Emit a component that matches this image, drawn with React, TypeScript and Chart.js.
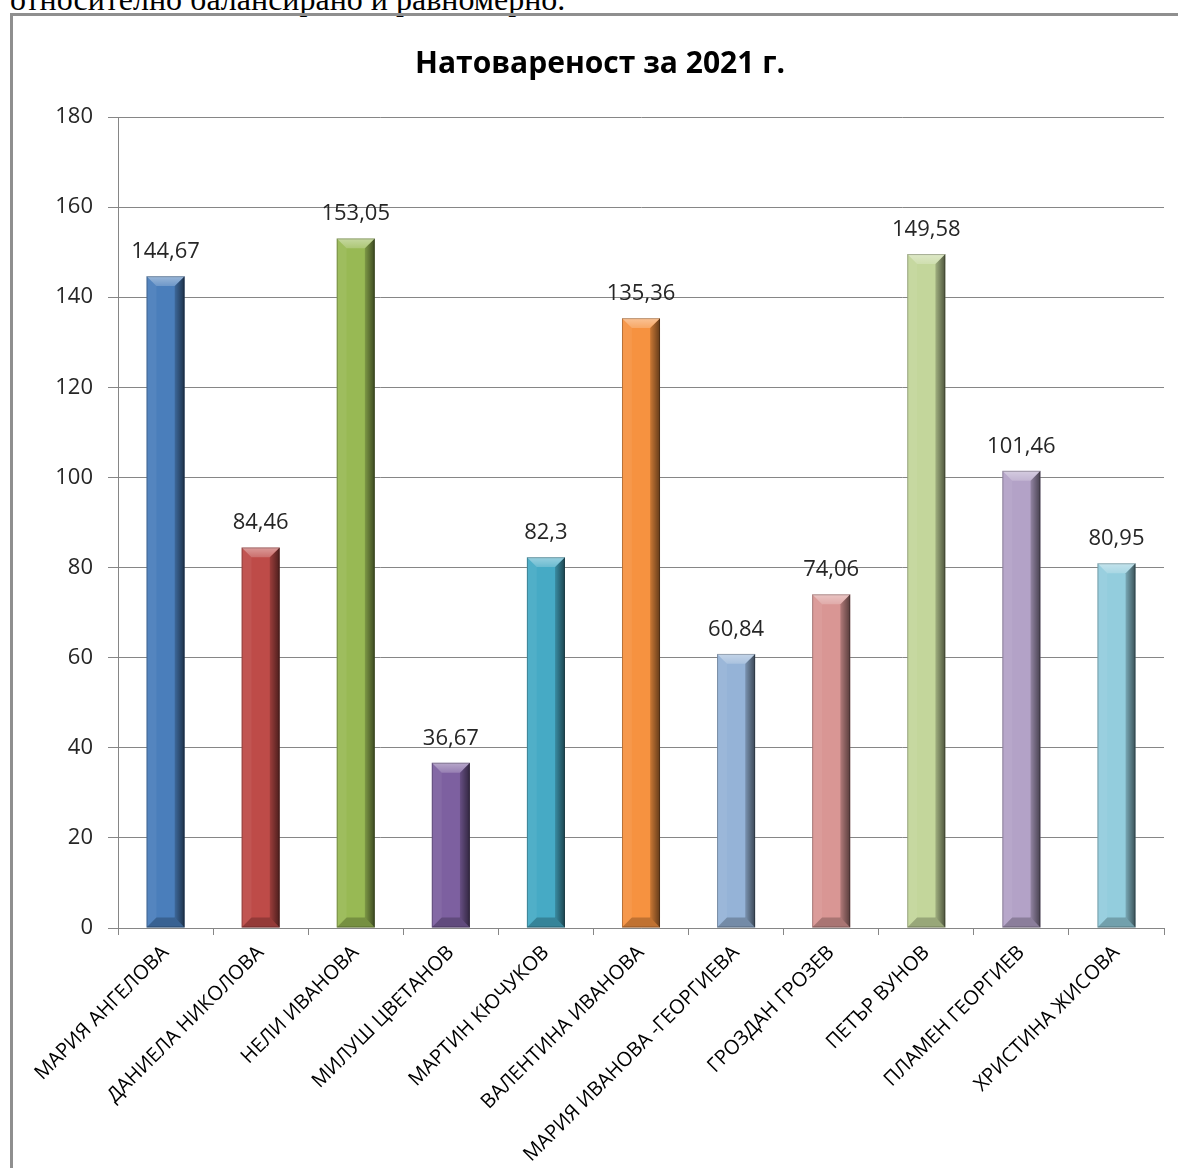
import React, { useEffect, useRef } from "react";
import { Chart, registerables } from "chart.js";

Chart.register(...registerables);

const TITLE = "Натовареност за 2021 г.";
const CAPTION = "относително балансирано и равномерно.";
const CATEGORIES = [
  "МАРИЯ АНГЕЛОВА",
  "ДАНИЕЛА НИКОЛОВА",
  "НЕЛИ ИВАНОВА",
  "МИЛУШ ЦВЕТАНОВ",
  "МАРТИН КЮЧУКОВ",
  "ВАЛЕНТИНА ИВАНОВА",
  "МАРИЯ ИВАНОВА -ГЕОРГИЕВА",
  "ГРОЗДАН ГРОЗЕВ",
  "ПЕТЪР ВУНОВ",
  "ПЛАМЕН ГЕОРГИЕВ",
  "ХРИСТИНА ЖИСОВА",
];
const VALUES = [144.67, 84.46, 153.05, 36.67, 82.3, 135.36, 60.84, 74.06, 149.58, 101.46, 80.95];
const BAR_COLORS = [
  "#4A7EBB",
  "#BE4B48",
  "#98B954",
  "#7D60A0",
  "#46AAC5",
  "#F69240",
  "#95B3D7",
  "#D99694",
  "#C3D69B",
  "#B3A2C7",
  "#93CDDD",
];
const Y_MIN = 0;
const Y_MAX = 180;
const Y_STEP = 20;

const FONT = "'Open Sans', 'Noto Sans', sans-serif";

const bevelPlugin = {
  id: "bevel",
  afterDatasetsDraw(chart: any) {
    const ctx = chart.ctx;
    const meta = chart.getDatasetMeta(0);
    meta.data.forEach((bar: any) => {
      const w = bar.width;
      const l = bar.x - w / 2;
      const r = bar.x + w / 2;
      const t = bar.y;
      const b = bar.base;
      const d = Math.min(w * 0.26, (b - t) / 2);
      ctx.save();
      const gr = ctx.createLinearGradient(r - d, 0, r, 0);
      gr.addColorStop(0, "rgba(0,0,0,0.18)");
      gr.addColorStop(1, "rgba(0,0,0,0.6)");
      ctx.fillStyle = gr;
      ctx.beginPath();
      ctx.moveTo(r, t);
      ctx.lineTo(r, b);
      ctx.lineTo(r - d, b - d);
      ctx.lineTo(r - d, t + d);
      ctx.closePath();
      ctx.fill();
      ctx.fillStyle = "rgba(255,255,255,0.06)";
      ctx.beginPath();
      ctx.moveTo(l, t);
      ctx.lineTo(l + d, t + d);
      ctx.lineTo(l + d, b - d);
      ctx.lineTo(l, b);
      ctx.closePath();
      ctx.fill();
      const gt = ctx.createLinearGradient(0, t, 0, t + d);
      gt.addColorStop(0, "rgba(255,255,255,0.45)");
      gt.addColorStop(1, "rgba(255,255,255,0.2)");
      ctx.fillStyle = gt;
      ctx.beginPath();
      ctx.moveTo(l, t);
      ctx.lineTo(r, t);
      ctx.lineTo(r - d, t + d);
      ctx.lineTo(l + d, t + d);
      ctx.closePath();
      ctx.fill();
      ctx.fillStyle = "rgba(0,0,0,0.22)";
      ctx.beginPath();
      ctx.moveTo(l, b);
      ctx.lineTo(r, b);
      ctx.lineTo(r - d, b - d);
      ctx.lineTo(l + d, b - d);
      ctx.closePath();
      ctx.fill();
      ctx.strokeStyle = "rgba(0,0,0,0.25)";
      ctx.lineWidth = 1;
      ctx.strokeRect(l + 0.5, t + 0.5, w - 1, b - t - 1);
      ctx.restore();
    });
  },
};

const valueLabelPlugin = {
  id: "valueLabels",
  afterDatasetsDraw(chart: any) {
    const ctx = chart.ctx;
    const meta = chart.getDatasetMeta(0);
    const data = chart.data.datasets[0].data;
    ctx.save();
    ctx.font = `22px ${FONT}`;
    ctx.fillStyle = "#262626";
    ctx.textAlign = "center";
    ctx.textBaseline = "alphabetic";
    meta.data.forEach((bar: any, i: number) => {
      const txt = String(data[i]).replace(".", ",");
      ctx.fillText(txt, bar.x, bar.y - 18);
    });
    ctx.restore();
  },
};

export default function App() {
  const canvasRef = useRef<HTMLCanvasElement | null>(null);

  useEffect(() => {
    if (!canvasRef.current) return;
    const chart = new Chart(canvasRef.current, {
      type: "bar",
      data: {
        labels: CATEGORIES,
        datasets: [
          {
            data: VALUES,
            backgroundColor: BAR_COLORS,
            borderWidth: 0,
            barPercentage: 0.4,
            categoryPercentage: 1,
          },
        ],
      },
      options: {
        animation: false,
        responsive: false,
        maintainAspectRatio: false,
        layout: { padding: { left: 24, right: 24, top: 0, bottom: 0 } },
        plugins: {
          legend: { display: false },
          tooltip: { enabled: false },
          title: {
            display: true,
            text: TITLE,
            color: "#000",
            font: { family: FONT, size: 30, weight: "bold" },
            padding: { top: 30, bottom: 35 },
          },
        },
        scales: {
          x: {
            offset: true,
            grid: {
              offset: true,
              drawOnChartArea: false,
              drawTicks: true,
              tickLength: 7,
              color: "#868686",
            },
            border: { display: true, color: "#868686" },
            ticks: {
              color: "#000",
              font: { family: FONT, size: 20 },
              minRotation: 45,
              maxRotation: 45,
              autoSkip: false,
              padding: 6,
            },
            afterFit(scale: any) {
              scale.height = 240;
            },
          },
          y: {
            min: Y_MIN,
            max: Y_MAX,
            ticks: {
              stepSize: Y_STEP,
              color: "#262626",
              font: { family: FONT, size: 22 },
              padding: 15,
            },
            grid: {
              color: "#868686",
              tickLength: 10,
              drawTicks: true,
            },
            border: { display: true, color: "#868686" },
            afterFit(scale: any) {
              scale.width = 82;
            },
          },
        },
      },
      plugins: [bevelPlugin, valueLabelPlugin],
    });
    return () => chart.destroy();
  }, []);

  return (
    <div
      style={{
        position: "fixed",
        left: 0,
        top: 0,
        width: 1178,
        height: 1168,
        overflow: "hidden",
        background: "#fff",
      }}
    >
      <div
        style={{
          position: "absolute",
          left: 10,
          top: -17,
          fontFamily: "'Liberation Serif', 'Times New Roman', serif",
          fontSize: 32,
          lineHeight: "33px",
          whiteSpace: "nowrap",
          color: "#000",
        }}
      >
        {CAPTION}
      </div>
      <div
        style={{
          position: "absolute",
          left: 10,
          top: 13,
          width: 1300,
          height: 1300,
          border: "3px solid #8f8f8f",
          boxSizing: "border-box",
        }}
      />
      <canvas
        ref={canvasRef}
        width={1176}
        height={1152}
        style={{ position: "absolute", left: 12, top: 16, width: 1176, height: 1152 }}
      />
    </div>
  );
}
